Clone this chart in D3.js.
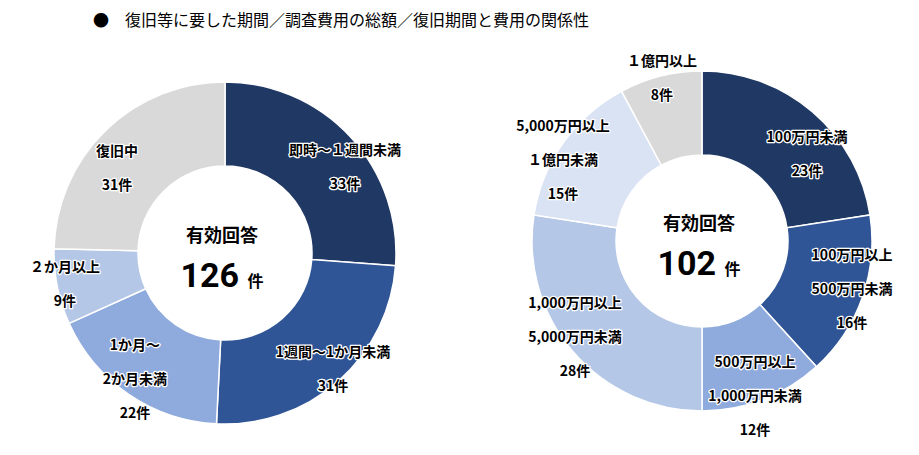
<!DOCTYPE html>
<html><head><meta charset="utf-8">
<script src="https://cdn.jsdelivr.net/npm/d3@7"></script>
<style>body{margin:0;background:#fff;font-family:"Noto Sans CJK JP",sans-serif;}</style>
</head><body><svg id="c" width="919" height="455"></svg>
<script>
const periodCats = ["即時～１週間未満","1週間～1か月未満","1か月～\n2か月未満","２か月以上","復旧中"];
const periodVals = [33,31,22,9,31];
const periodColors = ["#203864","#2f5597","#8faadc","#b4c7e7","#d9d9d9"];
const periodLabelPos = [[345,150],[333,352],[135,345],[65,267],[117,151]];
const costCats = ["100万円未満","100万円以上\n500万円未満","500万円以上\n1,000万円未満","1,000万円以上\n5,000万円未満","5,000万円以上\n１億円未満","１億円以上"];
const costVals = [23,16,12,28,15,8];
const costColors = ["#203864","#2f5597","#8faadc","#b4c7e7","#dae3f3","#d9d9d9"];
const costLabelPos = [[807,137],[852,255],[755,362],[575,303],[563,126],[662,61]];

const svg = d3.select("#c");
svg.append("text").attr("x",93).attr("y",26).attr("font-size",16).attr("fill","#000")
  .text("●　復旧等に要した期間／調査費用の総額／復旧期間と費用の関係性");

function donut(cx,cy,r0,r1,cats,vals,colors,pos,total){
  const pie = d3.pie().sort(null)(vals);
  const arc = d3.arc().innerRadius(r0).outerRadius(r1);
  const g = svg.append("g").attr("transform",`translate(${cx},${cy})`);
  g.selectAll("path").data(pie).join("path").attr("d",arc)
    .attr("fill",(d,i)=>colors[i]).attr("stroke","#fff").attr("stroke-width",1.5);
  cats.forEach((c,i)=>{
    const lines = c.split("\n").concat([vals[i]+"件"]);
    const t = svg.append("text").attr("text-anchor","middle").attr("font-size",14)
      .attr("font-weight","bold").attr("fill","#000")
      .attr("stroke","#fff").attr("stroke-width",2.5).attr("paint-order","stroke")
      .attr("stroke-linejoin","round");
    lines.forEach((l,j)=>t.append("tspan").attr("x",pos[i][0]).attr("y",pos[i][1]+5+j*34).text(l));
  });
  svg.append("text").attr("x",cx-3).attr("y",cy-11).attr("text-anchor","middle")
    .attr("font-size",18).attr("font-weight","bold").text("有効回答");
  const t2 = svg.append("text").attr("x",cx-3).attr("y",cy+34).attr("text-anchor","middle").attr("font-weight","bold");
  t2.append("tspan").attr("font-size",34).attr("font-family","Roboto, sans-serif").text(total+" ");
  t2.append("tspan").attr("font-size",16).text("件");
}
donut(225,253,87,171,periodCats,periodVals,periodColors,periodLabelPos,d3.sum(periodVals));
donut(702,241,86,170,costCats,costVals,costColors,costLabelPos,d3.sum(costVals));
</script></body></html>
